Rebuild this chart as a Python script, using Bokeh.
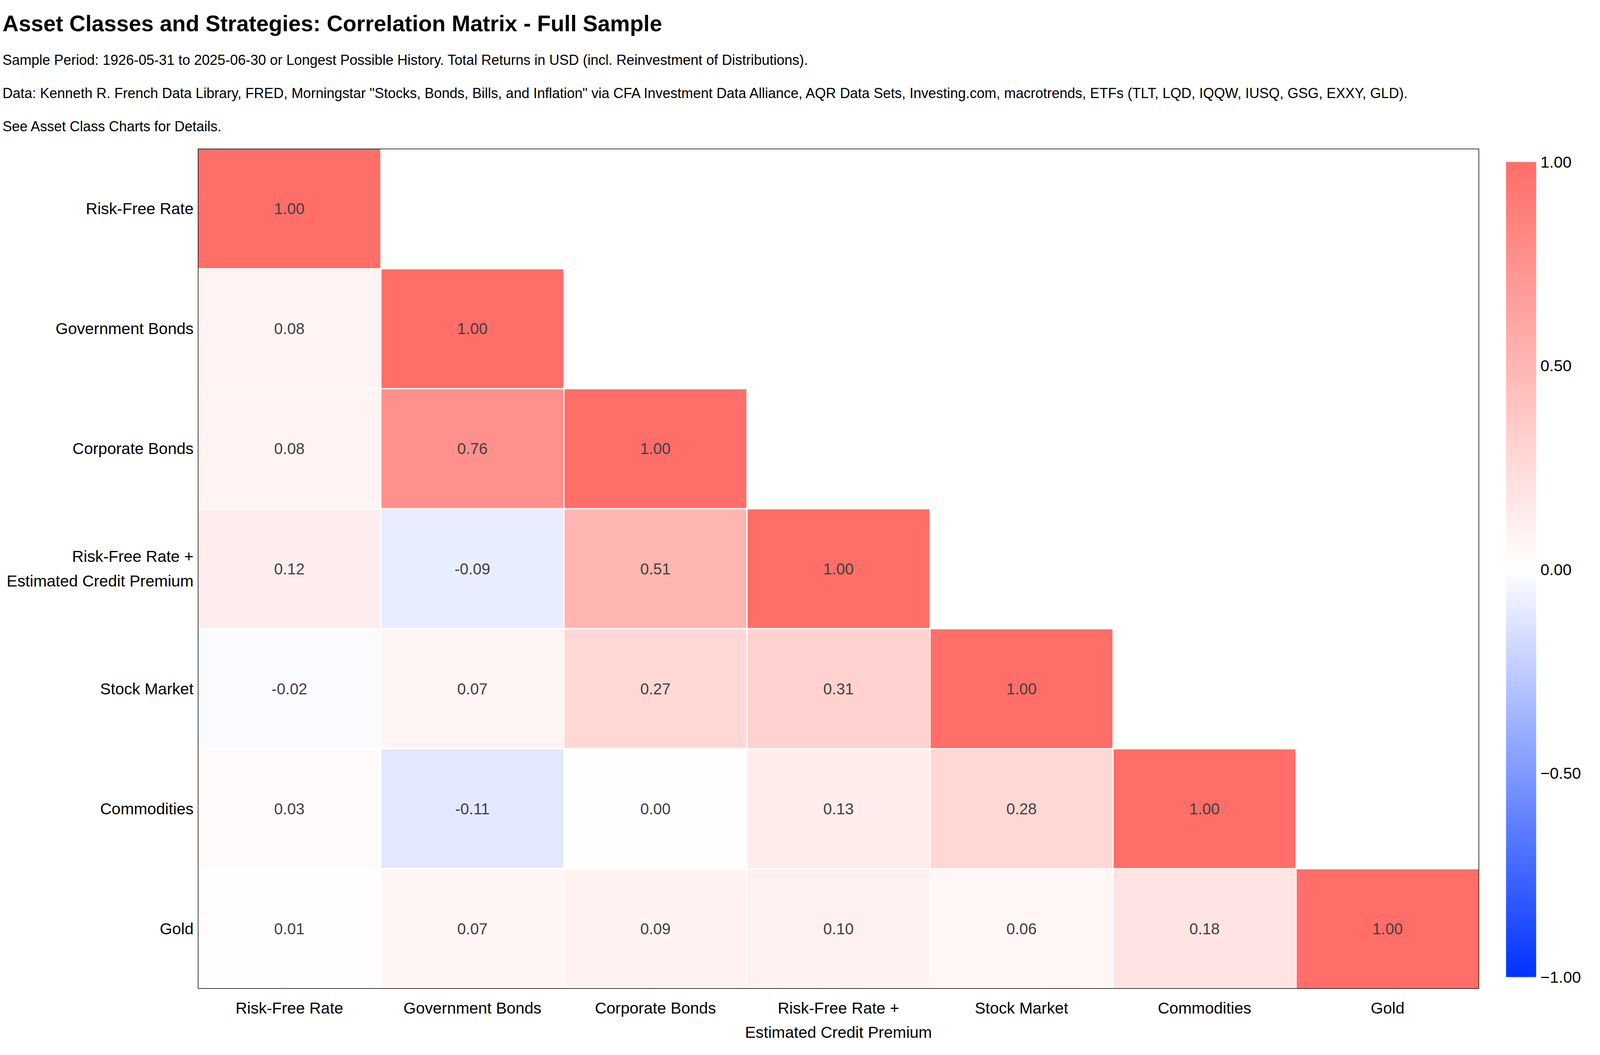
from bokeh.plotting import figure
from bokeh.models import (FactorRange, LinearColorMapper, ColorBar, FixedTicker,
                          CustomJSTickFormatter, Title, ColumnDataSource, BoxAnnotation)
from bokeh.core.properties import value
from bokeh.embed import file_html
from bokeh.resources import INLINE

# ---------------- data ----------------
assets = ["Risk-Free Rate", "Government Bonds", "Corporate Bonds",
          "Risk-Free Rate +\nEstimated Credit Premium", "Stock Market",
          "Commodities", "Gold"]

row_risk_free = [1.00]
row_gov_bonds = [0.08, 1.00]
row_corp_bonds = [0.08, 0.76, 1.00]
row_rf_credit = [0.12, -0.09, 0.51, 1.00]
row_stocks = [-0.02, 0.07, 0.27, 0.31, 1.00]
row_commodities = [0.03, -0.11, 0.00, 0.13, 0.28, 1.00]
row_gold = [0.01, 0.07, 0.09, 0.10, 0.06, 0.18, 1.00]
rows = [row_risk_free, row_gov_bonds, row_corp_bonds, row_rf_credit,
        row_stocks, row_commodities, row_gold]

colorbar_ticks = [-1.0, -0.5, 0.0, 0.5, 1.0]

title_text = "Asset Classes and Strategies: Correlation Matrix - Full Sample"
sub1 = "Sample Period: 1926-05-31 to 2025-06-30 or Longest Possible History. Total Returns in USD (incl. Reinvestment of Distributions)."
sub2 = ("Data: Kenneth R. French Data Library, FRED, Morningstar \"Stocks, Bonds, Bills, and Inflation\" via CFA Investment "
        "Data Alliance, AQR Data Sets, Investing.com, macrotrends, ETFs (TLT, LQD, IQQW, IUSQ, GSG, EXXY, GLD).")
sub3 = "See Asset Class Charts for Details."

# ---------------- styling ----------------
FONT = "Liberation Sans"
NEG = (0, 51, 255)
MID = (255, 255, 255)
POS = (255, 110, 104)


def lerp(a, b, t):
    return tuple(int(round(a[i] + (b[i] - a[i]) * t)) for i in range(3))


palette = []
for i in range(256):
    t = i / 255
    if t < 0.5:
        c = lerp(NEG, MID, t / 0.5)
    else:
        c = lerp(MID, POS, (t - 0.5) / 0.5)
    palette.append("#%02x%02x%02x" % c)

mapper = LinearColorMapper(palette=palette, low=-1, high=1)

xs, ys, vs, txt = [], [], [], []
for r, vals in enumerate(rows):
    for c, v in enumerate(vals):
        xs.append(assets[c])
        ys.append(assets[r])
        vs.append(v)
        txt.append(f"{v:.2f}")
src = ColumnDataSource(dict(x=xs, y=ys, v=vs, t=txt))

# the browser used reports a 4096 CSS px wide window: layout fitted to 4080 x 2684
p = figure(x_range=FactorRange(*assets), y_range=FactorRange(*reversed(assets)),
           frame_width=3280, frame_height=2150,
           min_border_left=506, min_border_top=380, min_border_right=294,
           min_border_bottom=154, output_backend="svg", toolbar_location=None,
           title=None, background_fill_color="white", border_fill_color="white")

p.rect(x="x", y="y", width=1, height=1, source=src,
       fill_color={"field": "v", "transform": mapper},
       line_color="white", line_width=3)
p.text(x="x", y="y", text="t", source=src, text_align="center",
       text_baseline="middle", text_font=value(FONT), text_font_size="40px",
       text_color="#404040")

p.outline_line_color = None
p.add_layout(BoxAnnotation(fill_alpha=0, line_color="black", line_alpha=1.0,
                           line_width=3, level="overlay"))
p.grid.visible = False
for ax in (p.xaxis, p.yaxis):
    ax.axis_line_color = None
    ax.major_tick_line_color = None
    ax.minor_tick_line_color = None
    ax.major_tick_out = 0
    ax.major_tick_in = 0
    ax.major_label_text_font = FONT
    ax.major_label_text_font_size = "41px"
    ax.major_label_text_color = "black"
    ax.major_label_text_line_height = 1.35
    ax.major_label_orientation = "horizontal"
p.xaxis.major_label_standoff = 26
p.yaxis.major_label_standoff = 11

cb = ColorBar(color_mapper=mapper, width=77, height=2086, location=(69, 30),
              ticker=FixedTicker(ticks=colorbar_ticks),
              formatter=CustomJSTickFormatter(code="return (tick < 0 ? '\\u2212' : '') + Math.abs(tick).toFixed(2);"),
              major_label_text_font=FONT, major_label_text_font_size="41px",
              major_label_text_color="black", major_tick_line_color=None,
              minor_tick_line_color=None, bar_line_color=None,
              border_line_color=None, background_fill_alpha=0,
              label_standoff=11, margin=0, padding=0)
p.add_layout(cb, "right")

OFF = -500
# spacer between the frame and the subtitles
p.add_layout(Title(text="\u00a0", text_font=FONT, text_font_size="1px", standoff=13), "above")
p.add_layout(Title(text=sub3, text_font=FONT, text_font_size="36px", text_font_style="normal",
                   text_color="black", align="left", offset=OFF, standoff=42), "above")
p.add_layout(Title(text=sub2, text_font=FONT, text_font_size="36px", text_font_style="normal",
                   text_color="black", align="left", offset=OFF, standoff=42), "above")
p.add_layout(Title(text=sub1, text_font=FONT, text_font_size="36px", text_font_style="normal",
                   text_color="black", align="left", offset=OFF, standoff=42), "above")
p.add_layout(Title(text=title_text, text_font=FONT, text_font_size="57px", text_font_style="bold",
                   text_color="black", align="left", offset=OFF, standoff=35), "above")

open("out.html", "w").write(file_html(p, INLINE))
